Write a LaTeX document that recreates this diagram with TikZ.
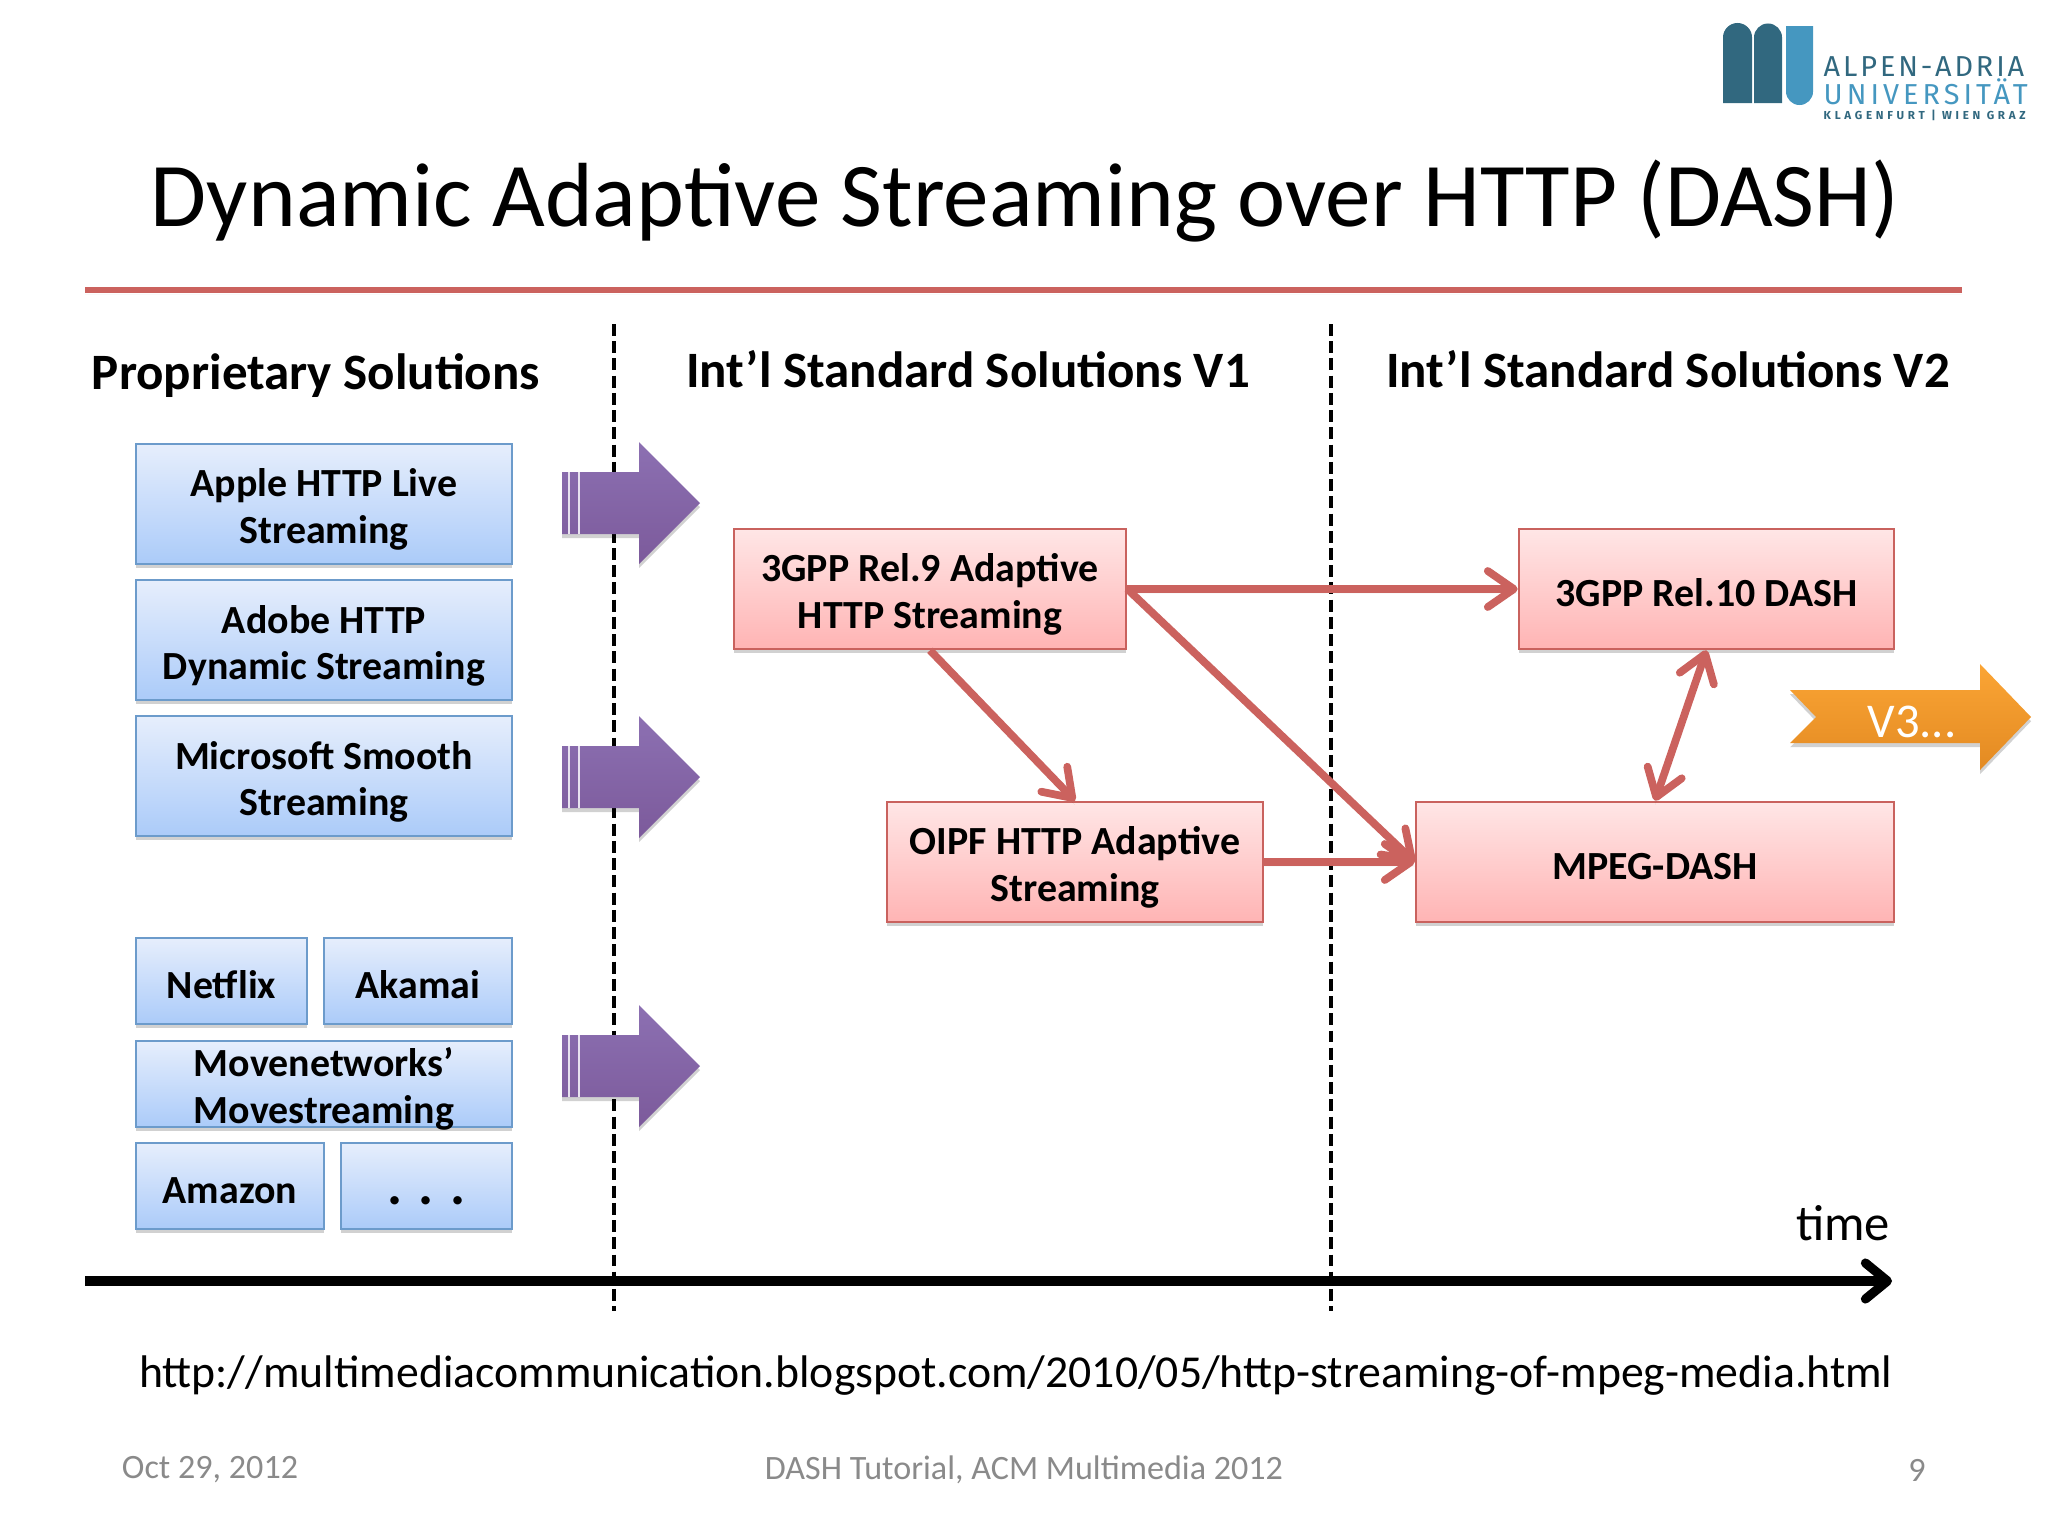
\documentclass[tikz,border=0pt]{standalone}
\usepackage{fontspec}
\setmainfont{Carlito}
\newfontfamily\logoFont[LetterSpace=10]{Fira Sans}
\newfontfamily\logoFontWide[LetterSpace=14]{Fira Sans}
\newfontfamily\logoFontSmall[LetterSpace=32]{Fira Sans}
\usetikzlibrary{arrows.meta}
\usetikzlibrary{positioning}
\usetikzlibrary{shadows}
\definecolor{blueBorder}{HTML}{6C9BCB}
\definecolor{blueTop}{HTML}{E6EEFC}
\definecolor{blueLow}{HTML}{ABCBF9}
\definecolor{redBorder}{HTML}{C9625E}
\definecolor{redTop}{HTML}{FFE6E6}
\definecolor{redLow}{HTML}{FFB4B4}
\definecolor{redArrow}{HTML}{CB625E}
\definecolor{purpleTop}{HTML}{8C70B2}
\definecolor{purpleLow}{HTML}{7C5A9B}
\definecolor{orangeTop}{HTML}{FBA535}
\definecolor{orangeLow}{HTML}{E38A22}
\definecolor{logoDark}{HTML}{31687F}
\definecolor{logoLight}{HTML}{4597C0}
\tikzset{
    softShadow/.style={drop shadow={shadow xshift=0pt,shadow yshift=-1.2pt,opacity=.18,fill=black}},
    solutionBox/.style={rectangle,draw=blueBorder,line width=0.7pt,top color=blueTop,bottom color=blueLow,
      minimum height=1.2cm,inner sep=0pt,align=center,softShadow,text height=22.2pt,text depth=0pt,font=\fontsize{11.35}{13.1}\selectfont\bfseries},
    solutionBoxSmall/.style={solutionBox,minimum height=0.86cm,text height=10pt},
    standardBox/.style={rectangle,draw=redBorder,line width=0.7pt,top color=redTop,bottom color=redLow,
      minimum height=1.2cm,inner sep=0pt,align=center,softShadow,text height=22.2pt,text depth=0pt,font=\fontsize{11.35}{13.1}\selectfont\bfseries},
    standardBoxSingle/.style={standardBox,text height=10pt},
    stageArrow/.style={top color=purpleTop,bottom color=purpleLow,softShadow},
    headerText/.style={font=\fontsize{14.5}{17}\selectfont\bfseries},
    stageDivider/.style={dash pattern=on 3.4pt off 1.5pt,line width=1pt},
    linkArrow/.style={draw=redArrow,line width=2.2pt,-{Straight Barb[length=0.26cm,width=0.36cm,round]},softShadow},
  }
\begin{document}
\begin{tikzpicture}[x=0.01cm,y=-0.01cm]
  \useasboundingbox (0,0) rectangle (2048,1536);

  % logo
  \fill[logoDark] (1723,103) -- (1723,37.5) arc[start angle=180,end angle=0,radius=0.145cm] -- (1752,103) -- cycle;
  \fill[logoDark] (1754,103) -- (1754,37.5) arc[start angle=180,end angle=0,radius=0.14cm] -- (1782,103) -- cycle;
  \fill[logoLight] (1786,26) -- (1786,91.5) arc[start angle=180,end angle=360,radius=0.135cm] -- (1813,26) -- cycle;
  \node[text=logoDark,anchor=west,inner sep=0pt,font=\fontsize{8.2}{9}\logoFont] (logoTop) at (1823,67) {ALPEN-ADRIA};
  \node[text=logoLight,anchor=west,inner sep=0pt,font=\fontsize{8.2}{9}\logoFontWide] (logoMid) at (1823,92) {UNIVERSITÄT};
  \node[text=logoDark,anchor=west,inner sep=0pt,font=\fontsize{3.3}{4}\logoFontSmall\bfseries] (logoLow) at (1823,115) {KLAGENFURT | WIEN GRAZ};

  % title
  \node[font=\fontsize{25.9}{30}\selectfont] (title) at (1025,201) {Dynamic Adaptive Streaming over HTTP (DASH)};
  \coordinate (ruleL) at (85,290);
  \coordinate (ruleR) at (1962,290);
  \draw[redArrow,line width=1.5pt,softShadow] (ruleL) -- (ruleR);

  % stage dividers
  \coordinate (divOneTop) at (614,324);
  \coordinate (divOneLow) at (614,1311);
  \coordinate (divTwoTop) at (1331,324);
  \coordinate (divTwoLow) at (1331,1311);
  \draw[stageDivider] (divOneTop) -- (divOneLow);
  \draw[stageDivider] (divTwoTop) -- (divTwoLow);

  \node[headerText] (propHead) at (316,376) {Proprietary Solutions};
  \node[headerText] (stdOneHead) at (968,369) {Int’l Standard Solutions V1};
  \node[headerText] (stdTwoHead) at (1668,369) {Int’l Standard Solutions V2};

  % proprietary boxes
  \node[solutionBox,minimum width=3.76cm] (apple) at (324,504) {Apple HTTP Live\\Streaming};
  \node[solutionBox,minimum width=3.76cm] (adobe) [below=0.135cm of apple] {Adobe HTTP\\Dynamic Streaming};
  \node[solutionBox,minimum width=3.76cm] (microsoft) [below=0.135cm of adobe] {Microsoft Smooth\\Streaming};
  \node[solutionBoxSmall,minimum width=1.71cm] (netflix) at (221.5,981) {Netflix};
  \node[solutionBoxSmall,minimum width=1.88cm] (akamai) at (418,981) {Akamai};
  \node[solutionBoxSmall,minimum width=3.76cm,text height=22.2pt] (move) at (324,1084) {Movenetworks’\\Movestreaming};
  \node[solutionBoxSmall,minimum width=1.88cm] (amazon) at (230,1186) {Amazon};
  \node[solutionBoxSmall,minimum width=1.71cm,text height=10.5pt,font=\fontsize{16}{18}\selectfont\bfseries] (etc) at (426.5,1186) {. . .};

  % purple arrows
  \foreach \ypos in {503,777,1066}{
    \path[stageArrow] (562,\ypos-31) -- (639,\ypos-31) -- (639,\ypos-61) -- (700,\ypos) -- (639,\ypos+61) -- (639,\ypos+31) -- (562,\ypos+31) -- cycle;
    \draw[white!80!purpleTop,line width=0.4pt] (569,\ypos-31) -- (569,\ypos+31);
    \draw[white!80!purpleTop,line width=0.4pt] (579,\ypos-31) -- (579,\ypos+31);
  }

  % standards
  \node[standardBox,minimum width=3.92cm] (gppNine) at (930,589) {3GPP Rel.9 Adaptive\\HTTP Streaming};
  \node[standardBoxSingle,minimum width=3.75cm] (gppTen) at (1706.5,589) {3GPP Rel.10 DASH};
  \node[standardBox,minimum width=3.76cm] (oipf) at (1075,862) {OIPF HTTP Adaptive\\Streaming};
  \node[standardBoxSingle,minimum width=4.78cm] (mpeg) at (1655,862) {MPEG-DASH};

  \path[linkArrow] (gppNine.east) -- (gppTen.west);
  \path[linkArrow] (gppNine.east) -- (mpeg.west);
  \path[linkArrow] (gppNine.south) -- (oipf.north);
  \path[linkArrow] (oipf.east) -- (mpeg.west);
  \path[linkArrow,{Straight Barb[length=0.26cm,width=0.36cm,round]}-{Straight Barb[length=0.26cm,width=0.36cm,round]}] (gppTen.south) -- (mpeg.north);

  % next version
  \path[top color=orangeTop,bottom color=orangeLow,softShadow]
    (1790,690) -- (1980,690) -- (1980,664) -- (2031,717) -- (1980,770) -- (1980,743) -- (1790,743) -- (1816,717) -- cycle;
  \node[text=white,font=\fontsize{13.8}{16}\selectfont] (nextVersion) at (1912,722) {V3...};

  % time axis
  \coordinate (axisStart) at (85,1281);
  \coordinate (axisEnd) at (1892,1281);
  \draw[line width=2.6pt,-{Straight Barb[length=0.22cm,width=0.36cm,round]}] (axisStart) -- (axisEnd);
  \node[font=\fontsize{14.4}{17}\selectfont] (timeLabel) at (1843,1223) {time};

  \node[font=\fontsize{13}{15}\selectfont] (source) at (1016,1376) {http://multimediacommunication.blogspot.com/2010/05/http-streaming-of-mpeg-media.html};

  % footer
  \node[text=black!46,font=\fontsize{9.7}{11}\selectfont] (footDate) at (210,1470) {Oct 29, 2012};
  \node[text=black!46,font=\fontsize{9.7}{11}\selectfont] (footTalk) at (1024,1470) {DASH Tutorial, ACM Multimedia 2012};
  \node[text=black!46,font=\fontsize{9.7}{11}\selectfont] (footPage) at (1917,1470) {9};
\end{tikzpicture}
\end{document}
